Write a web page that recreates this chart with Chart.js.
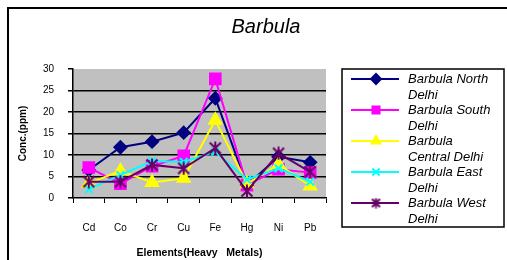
<!DOCTYPE html>
<html><head><meta charset="utf-8">
<script src="https://cdn.jsdelivr.net/npm/chart.js@4/dist/chart.umd.min.js"></script>
<style>html,body{margin:0;padding:0;background:#fff;overflow:hidden}</style>
</head><body>
<canvas id="c" width="507" height="260"></canvas>
<script>
const categories = ['Cd','Co','Cr','Cu','Fe','Hg','Ni','Pb'];
const northDelhi   = [6.5, 11.8, 13.1, 15.2, 23.2, 3.0, 9.6, 8.3];
const southDelhi   = [7.1, 3.3, 7.4, 9.8, 27.7, 3.0, 6.7, 5.9];
const centralDelhi = [3.4, 6.3, 3.6, 4.6, 18.1, 3.3, 7.8, 2.8];
const eastDelhi    = [2.0, 5.3, 8.6, 8.4, 10.8, 4.3, 6.9, 3.8];
const westDelhi    = [3.8, 3.8, 7.7, 6.9, 11.6, 1.6, 10.4, 6.1];
const yTicks = [0,5,10,15,20,25,30];
const legendLabels = [['Barbula North','Delhi'],['Barbula South','Delhi'],['Barbula','Central Delhi'],['Barbula East','Delhi'],['Barbula West','Delhi']];

function starMarker(size){
  const c=document.createElement('canvas');c.width=size;c.height=size;const g=c.getContext('2d');
  const m=size/2, r=size/2-1.5;
  g.strokeStyle='#660066';g.lineWidth=2;g.beginPath();
  g.moveTo(m-r,m-r);g.lineTo(m+r,m+r);g.moveTo(m+r,m-r);g.lineTo(m-r,m+r);g.moveTo(m,m-r-1);g.lineTo(m,m+r+1);g.stroke();return c;
}
const starImg = starMarker(14);
const starSmall = starMarker(11);

const ds = [
  {label:'Barbula North Delhi',data:northDelhi,borderColor:'#000080',backgroundColor:'#000080',pointStyle:'rectRot',pointRadius:6,order:4},
  {label:'Barbula South Delhi',data:southDelhi,borderColor:'#ff00ff',backgroundColor:'#ff00ff',pointStyle:'rect',pointRadius:7.5,order:3},
  {label:'Barbula Central Delhi',data:centralDelhi,borderColor:'#ffff00',backgroundColor:'#ffff00',pointStyle:'triangle',pointRadius:7,order:2},
  {label:'Barbula East Delhi',data:eastDelhi,borderColor:'#00ffff',backgroundColor:'#00ffff',pointStyle:'crossRot',pointRadius:5.5,pointBorderWidth:2,order:1},
  {label:'Barbula West Delhi',data:westDelhi,borderColor:'#660066',backgroundColor:'#660066',pointStyle:starImg,pointRadius:6,order:0}
].map(d=>Object.assign({borderWidth:2,tension:0,fill:false},d));

const deco = {
  id:'deco',
  beforeDraw(chart){
    const {ctx,chartArea:a}=chart;
    ctx.save();ctx.fillStyle='#fff';ctx.fillRect(0,0,chart.width,chart.height);
    ctx.fillStyle='#c0c0c0';ctx.fillRect(a.left,a.top,a.right-a.left,a.bottom-a.top);
    ctx.restore();
  },
  afterDraw(chart){
    const ctx=chart.ctx;ctx.save();
    ctx.strokeStyle='#000';ctx.lineWidth=2;ctx.strokeRect(8,8,600,300);
    ctx.fillStyle='#000';ctx.font='italic 20px "Liberation Sans", Arial';ctx.textAlign='center';ctx.textBaseline='middle';
    ctx.fillText('Barbula',266,27);
    const bx=342,by=69,bw=162,bh=158;
    ctx.fillStyle='#fff';ctx.fillRect(bx,by,bw,bh);
    ctx.save();ctx.beginPath();ctx.rect(bx,by,bw,bh);ctx.clip();
    ctx.font='italic 13px "Liberation Sans", Arial';ctx.textAlign='left';ctx.textBaseline='middle';
    const rows=[79,110,141,172,203];
    chart.data.datasets.forEach((d,i)=>{
      const y=rows[i];
      ctx.strokeStyle=d.borderColor;ctx.lineWidth=2;ctx.beginPath();ctx.moveTo(351,y);ctx.lineTo(399,y);ctx.stroke();
      ctx.fillStyle=d.backgroundColor;ctx.strokeStyle=d.borderColor;
      const ps = (d.pointStyle===starImg)?starSmall:d.pointStyle;
      Chart.helpers.drawPoint(ctx,{pointStyle:ps,radius:5,borderWidth:d.pointBorderWidth||1},376,y);
      ctx.fillStyle='#000';
      legendLabels[i].forEach((t,k)=>ctx.fillText(t,408,y+k*16));
    });
    ctx.restore();
    ctx.strokeStyle='#000';ctx.lineWidth=1.5;ctx.strokeRect(bx,by,bw,bh);
    ctx.restore();
  }
};

new Chart(document.getElementById('c'),{
  type:'line',
  data:{labels:categories,datasets:ds},
  options:{
    responsive:false,animation:false,
    layout:{padding:{left:0,top:69,right:181,bottom:0}},
    plugins:{legend:{display:false},title:{display:false},tooltip:{enabled:false}},
    scales:{
      x:{
        offset:true,
        grid:{offset:true,drawOnChartArea:false,drawTicks:true,tickLength:5,color:'#000',lineWidth:1},
        border:{color:'#000',width:1.5},
        ticks:{color:'#000',font:{family:'"Liberation Sans", Arial',size:10},padding:19,maxRotation:0},
        title:{display:true,text:'Elements(Heavy   Metals)',color:'#000',font:{family:'"Liberation Sans", Arial',size:10.5,weight:'bold'},padding:{top:4,bottom:1}},
        afterFit(s){s.height=62;}
      },
      y:{
        min:0,max:30,
        afterBuildTicks(s){s.ticks=yTicks.map(v=>({value:v}));},
        grid:{color:(c)=> (c.tick && (c.tick.value===0||c.tick.value===30)) ? 'rgba(0,0,0,0)' : '#000',lineWidth:1.5,drawTicks:true,tickLength:5,tickColor:'#000'},
        border:{color:'#000',width:1.5},
        ticks:{color:'#000',font:{family:'"Liberation Sans", Arial',size:10},padding:14},
        title:{display:true,text:'Conc.(ppm)',color:'#000',font:{family:'"Liberation Sans", Arial',size:10,weight:'bold'},padding:{top:17,bottom:0}},
        afterFit(s){s.width=73;}
      }
    }
  },
  plugins:[deco]
});
</script>
</body></html>
